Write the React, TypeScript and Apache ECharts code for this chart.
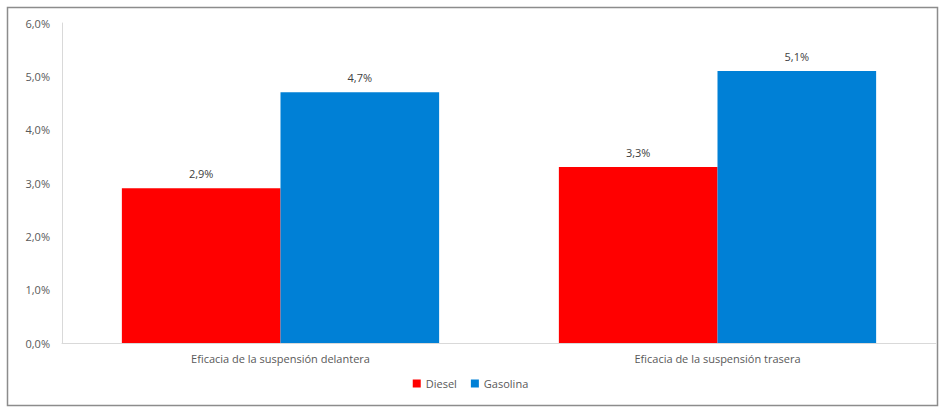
import React, { useEffect, useRef } from "react";
import * as echarts from "echarts";

const categories = ["Eficacia de la suspensión delantera", "Eficacia de la suspensión trasera"];
const dieselValues = [2.9, 3.3];
const gasolinaValues = [4.7, 5.1];
const yTicks = [0, 1, 2, 3, 4, 5, 6];

const fmt = (v: number) => v.toFixed(1).replace(".", ",") + "%";

export default function App() {
  const ref = useRef<HTMLDivElement>(null);
  useEffect(() => {
    if (!ref.current) return;
    const chart = echarts.init(ref.current, null, { renderer: "svg" });
    const font = "'Open Sans', 'Liberation Sans', sans-serif";
    const label = {
      show: true,
      position: "top",
      distance: 9,
      color: "#404040",
      fontSize: 11,
      fontFamily: font,
      formatter: (p: any) => fmt(p.value),
    };
    chart.setOption({
      animation: false,
      backgroundColor: "#ffffff",
      textStyle: { fontFamily: font },
      graphic: [
        {
          type: "rect",
          shape: { x: 7.5, y: 7.5, width: 930, height: 398 },
          style: { fill: "none", stroke: "#8c8c8c", lineWidth: 1.5 },
          silent: true,
        },
      ],
      grid: { left: 62, right: 5, top: 23, bottom: 66, containLabel: false },
      legend: {
        bottom: 15,
        left: "center",
        itemWidth: 8,
        itemHeight: 8,
        itemGap: 14,
        icon: "rect",
        textStyle: { color: "#595959", fontSize: 11, fontFamily: font },
        data: ["Diesel", "Gasolina"],
      },
      xAxis: {
        type: "category",
        data: categories,
        axisLine: { lineStyle: { color: "#d9d9d9", width: 1 } },
        axisTick: { show: false },
        axisLabel: { color: "#595959", fontSize: 11, margin: 10, fontFamily: font },
      },
      yAxis: {
        type: "value",
        min: 0,
        max: yTicks[yTicks.length - 1],
        interval: 1,
        axisLine: { show: true, lineStyle: { color: "#d9d9d9", width: 1 } },
        axisTick: { show: false },
        splitLine: { show: false },
        axisLabel: {
          color: "#595959",
          fontSize: 11,
          margin: 12,
          fontFamily: font,
          formatter: (v: number) => fmt(v),
        },
      },
      series: [
        {
          name: "Diesel",
          type: "bar",
          data: dieselValues,
          barGap: "0%",
          barCategoryGap: "27.4%",
          itemStyle: { color: "#ff0000" },
          label,
        },
        {
          name: "Gasolina",
          type: "bar",
          data: gasolinaValues,
          barGap: "0%",
          barCategoryGap: "27.4%",
          itemStyle: { color: "#0080d6" },
          label,
        },
      ],
    });
    return () => chart.dispose();
  }, []);
  return (
    <div
      ref={ref}
      style={{ position: "absolute", left: 0, top: 0, width: 941, height: 409 }}
    />
  );
}
